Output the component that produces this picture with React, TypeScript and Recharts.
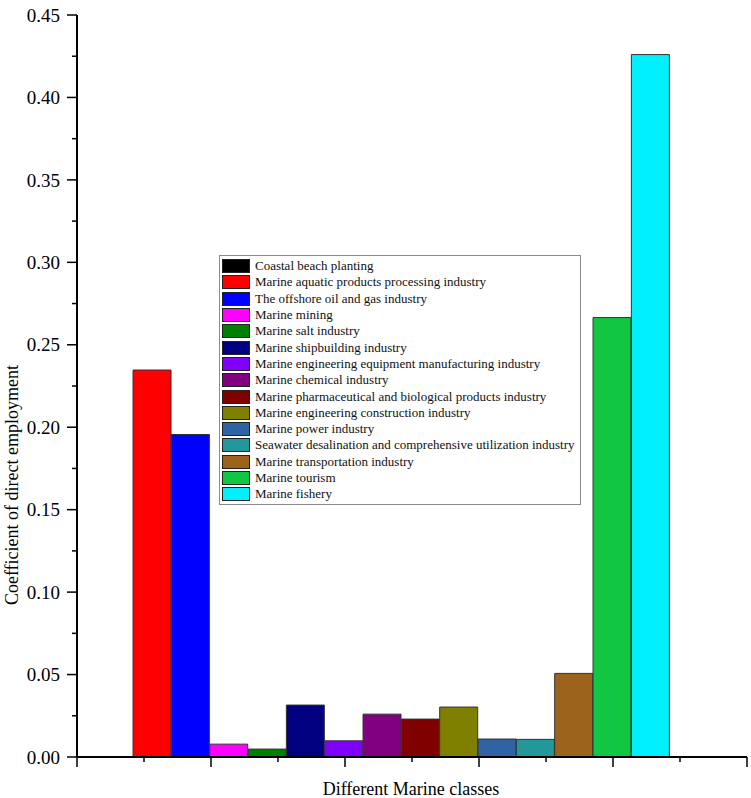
import React from "react";
import { BarChart, Bar, Cell, XAxis, YAxis, Legend } from "recharts";

const categories = [
  "Coastal beach planting",
  "Marine aquatic products processing industry",
  "The offshore oil and gas industry",
  "Marine mining",
  "Marine salt industry",
  "Marine shipbuilding industry",
  "Marine engineering equipment manufacturing industry",
  "Marine chemical industry",
  "Marine pharmaceutical and biological products industry",
  "Marine engineering construction industry",
  "Marine power industry",
  "Seawater desalination and comprehensive utilization industry",
  "Marine transportation industry",
  "Marine tourism",
  "Marine fishery",
];

const values = [
  0.0003, 0.2347, 0.1956, 0.0078, 0.0048, 0.0315, 0.0098, 0.026, 0.023,
  0.0303, 0.0109, 0.0107, 0.0507, 0.2665, 0.426,
];

const colors = [
  "#000000", "#ff0000", "#0000ff", "#ff00ff", "#008000", "#000080",
  "#8000ff", "#800080", "#800000", "#808000", "#2e63a4", "#22989a",
  "#9b631c", "#11c642", "#00f0ff",
];

const yTicks = [
  0, 0.025, 0.05, 0.075, 0.1, 0.125, 0.15, 0.175, 0.2, 0.225, 0.25, 0.275,
  0.3, 0.325, 0.35, 0.375, 0.4, 0.425, 0.45,
];
const xTicks = [0, 1, 2, 3, 4, 5, 6, 7, 8, 9, 10];

const data = categories.map((name, i) => ({ name, value: values[i] }));

const FONT = "'Times New Roman', 'Liberation Serif', serif";

const YTick = (props: any) => {
  const { x, y, payload } = props;
  const v = payload.value;
  const major = Math.round(v * 1000) % 50 === 0;
  return (
    <g>
      <line x1={x - (major ? 10 : 5)} x2={x} y1={y} y2={y} stroke="#000" strokeWidth={1.5} />
      {major && (
        <text x={x - 17} y={y} dy="0.35em" textAnchor="end" fontSize={19} fontFamily={FONT} fill="#000">
          {v.toFixed(2)}
        </text>
      )}
    </g>
  );
};

const XTick = (props: any) => {
  const { x, y, payload } = props;
  const major = payload.value % 2 === 0;
  return <line x1={x} x2={x} y1={y} y2={y + (major ? 10 : 5)} stroke="#000" strokeWidth={1.5} />;
};

const LegendBox = () => (
  <div
    style={{
      boxSizing: "border-box",
      width: 362,
      height: 250,
      border: "1px solid #8c8c8c",
      background: "#fff",
      padding: "2px 0 0 2px",
      fontFamily: FONT,
      fontSize: 13,
      color: "#111",
    }}
  >
    {categories.map((c, i) => (
      <div key={c} style={{ display: "flex", alignItems: "center", height: 16.3 }}>
        <div
          style={{
            boxSizing: "border-box",
            width: 28,
            height: 14,
            border: "1.5px solid #222",
            background: colors[i],
            marginRight: 5,
            flex: "none",
          }}
        />
        <span style={{ whiteSpace: "nowrap" }}>{c}</span>
      </div>
    ))}
  </div>
);

export default function App() {
  return (
    <div style={{ position: "absolute", left: 0, top: 0, background: "#fff" }}>
      <BarChart
        width={751}
        height={798}
        data={data}
        margin={{ top: 15, right: 4, left: 0, bottom: 0 }}
        barCategoryGap={0}
        barGap={0}
      >
        <XAxis xAxisId="cat" dataKey="name" hide height={0} padding={{ left: 17.7, right: 77.3 }} />
        <XAxis
          xAxisId="num"
          dataKey="value"
          type="number"
          domain={[0, 10]}
          ticks={xTicks}
          allowDataOverflow
          interval={0}
          height={41}
          tickSize={0}
          tickMargin={0}
          tickLine={false}
          tick={<XTick />}
          axisLine={{ stroke: "#000", strokeWidth: 2 }}
          label={{
            content: () => (
              <text x={411} y={795} textAnchor="middle" fontSize={18} fontFamily={FONT} fill="#000">
                Different Marine classes
              </text>
            ),
          }}
        />
        <YAxis
          type="number"
          domain={[0, 0.45]}
          ticks={yTicks}
          interval={0}
          width={77}
          tickSize={0}
          tickMargin={0}
          tickLine={false}
          tick={<YTick />}
          axisLine={{ stroke: "#000", strokeWidth: 2 }}
          label={{
            content: () => (
              <text
                x={18}
                y={485}
                transform="rotate(-90, 18, 485)"
                textAnchor="middle"
                fontSize={18}
                fontFamily={FONT}
                fill="#000"
              >
                Coefficient of direct employment
              </text>
            ),
          }}
        />
        <Legend
          layout="vertical"
          align="center"
          verticalAlign="middle"
          wrapperStyle={{ left: 219, top: 255, width: 362, height: 250 }}
          content={() => <LegendBox />}
        />
        <Bar xAxisId="cat" dataKey="value" stroke="#333" strokeWidth={1} isAnimationActive={false}>
          {data.map((d, i) => (
            <Cell key={d.name} fill={colors[i]} />
          ))}
        </Bar>
      </BarChart>
    </div>
  );
}
